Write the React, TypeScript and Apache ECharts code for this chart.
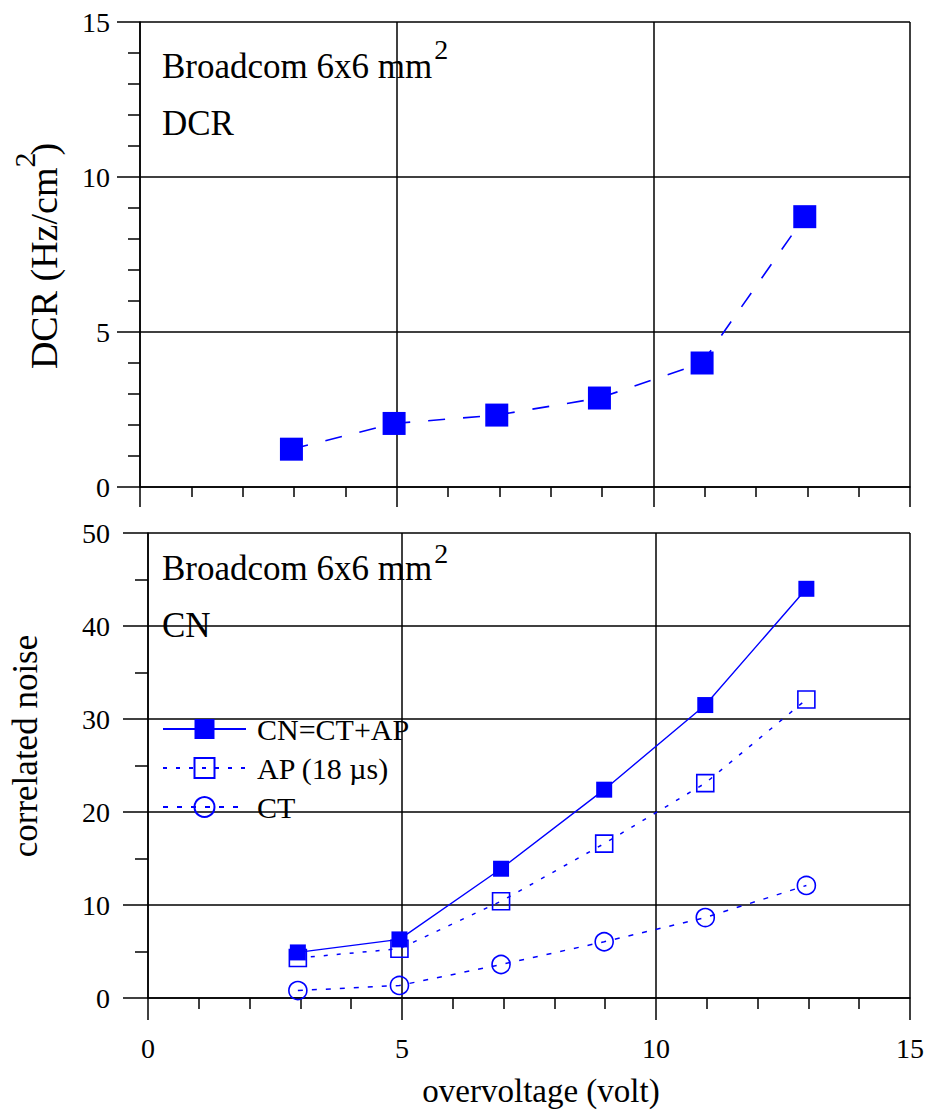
import React, { useEffect, useRef } from 'react';
import * as echarts from 'echarts';

const FONT = '"Liberation Serif", "Times New Roman", serif';
const BLUE = '#0000ff';
const BLACK = '#000000';

// ---- data ----
const dcrVoltage = [2.95, 4.95, 6.95, 8.95, 10.95, 12.95];
const dcrValues = [1.22, 2.05, 2.32, 2.87, 4.0, 8.72];

const cnVoltage = [2.95, 4.95, 6.95, 8.98, 10.97, 12.96];
const cnValues = [4.9, 6.3, 13.9, 22.4, 31.5, 44.0];
const apValues = [4.3, 5.3, 10.4, 16.6, 23.1, 32.1];
const ctValues = [0.8, 1.35, 3.6, 6.05, 8.65, 12.1];

const seriesNames = ['CN=CT+AP', 'AP (18 µs)', 'CT'];
const annotationTitle = 'Broadcom 6x6 mm';
const topTag = 'DCR';
const bottomTag = 'CN';
const xAxisName = 'overvoltage (volt)';
const topYName = 'DCR (Hz/cm';
const bottomYName = 'correlated noise';

function measure(text: string, size: number): number {
  const c = document.createElement('canvas').getContext('2d');
  if (!c) return text.length * size * 0.5;
  c.font = `${size}px "Liberation Serif"`;
  return c.measureText(text).width;
}

const zip = (xs: number[], ys: number[]) => xs.map((x, i) => [x, ys[i]]);

export default function App() {
  const ref = useRef<HTMLDivElement>(null);
  useEffect(() => {
    if (!ref.current) return;
    const chart = echarts.init(ref.current, undefined, { renderer: 'svg' });
    const ls = { color: BLACK, width: 1.5 };

    const xAxisBase = (grid: number, showLabel: boolean, tickLen: number, minorLen: number) => ({
      gridIndex: grid,
      type: 'value',
      min: 0,
      max: 15,
      interval: 5,
      axisLine: { show: true, onZero: false, lineStyle: ls },
      axisTick: { show: true, inside: false, length: tickLen, lineStyle: ls },
      minorTick: { show: true, splitNumber: 5, length: minorLen, lineStyle: ls },
      splitLine: { show: true, lineStyle: ls },
      axisLabel: {
        show: showLabel,
        color: BLACK,
        fontFamily: FONT,
        fontSize: 28,
        margin: 36,
      },
    });

    const yAxisBase = (grid: number, max: number, interval: number, minorSplit: number, margin: number, tickLen: number, minorLen: number) => ({
      gridIndex: grid,
      type: 'value',
      min: 0,
      max,
      interval,
      axisLine: { show: true, onZero: false, lineStyle: ls },
      axisTick: { show: true, inside: false, length: tickLen, lineStyle: ls },
      minorTick: { show: true, splitNumber: minorSplit, length: minorLen, lineStyle: ls },
      splitLine: { show: true, lineStyle: ls },
      axisLabel: { color: BLACK, fontFamily: FONT, fontSize: 28, margin },
    });

    // rotated DCR axis name pieces
    const w1 = measure(topYName, 38);
    const w2 = measure('2', 30);
    const w3 = measure(')', 38);
    const L = w1 + w2 + w3 - 3;
    const wc = measure(bottomYName, 35);
    const wTitle = measure(annotationTitle, 35);

    const txt = (x: number, y: number, text: string, size: number, align = 'left') => ({
      type: 'text',
      x,
      y,
      z: 10,
      style: {
        text,
        fill: BLACK,
        fontSize: size,
        fontFamily: FONT,
        align,
        verticalAlign: 'middle',
        textAlign: align,
        textVerticalAlign: 'middle',
      },
    });

    const option = {
      animation: false,
      backgroundColor: '#ffffff',
      grid: [
        { left: 140, top: 22, width: 770, height: 465, show: false },
        { left: 148, top: 533, width: 770, height: 465, show: false },
      ],
      xAxis: [xAxisBase(0, false, 20, 10), xAxisBase(1, true, 22, 11)],
      yAxis: [yAxisBase(0, 15, 5, 5, 30, 23, 12), yAxisBase(1, 50, 10, 2, 38, 25, 13)],
      legend: {
        data: seriesNames,
        orient: 'vertical',
        left: 162,
        top: 714,
        padding: 0,
        itemGap: 9,
        itemWidth: 83,
        itemHeight: 25,
        textStyle: { color: BLACK, fontFamily: FONT, fontSize: 30, padding: [0, 0, 0, 6] },
      },
      series: [
        {
          name: 'DCR',
          type: 'line',
          xAxisIndex: 0,
          yAxisIndex: 0,
          data: zip(dcrVoltage, dcrValues),
          symbol: 'rect',
          symbolSize: 23,
          itemStyle: { color: BLUE },
          lineStyle: { color: BLUE, width: 1.6, type: [17, 18] },
        },
        {
          name: seriesNames[0],
          type: 'line',
          xAxisIndex: 1,
          yAxisIndex: 1,
          data: zip(cnVoltage, cnValues),
          symbol: 'rect',
          symbolSize: 16,
          itemStyle: { color: BLUE },
          lineStyle: { color: BLUE, width: 1.4, type: 'solid' },
        },
        {
          name: seriesNames[1],
          type: 'line',
          xAxisIndex: 1,
          yAxisIndex: 1,
          data: zip(cnVoltage, apValues),
          symbol: 'rect',
          symbolSize: 17,
          itemStyle: { color: 'rgba(0,0,0,0)', borderColor: BLUE, borderWidth: 1.6 },
          lineStyle: { color: BLUE, width: 1.5, type: [4, 9] },
        },
        {
          name: seriesNames[2],
          type: 'line',
          xAxisIndex: 1,
          yAxisIndex: 1,
          data: zip(cnVoltage, ctValues),
          symbol: 'circle',
          symbolSize: 18,
          itemStyle: { color: 'rgba(0,0,0,0)', borderColor: BLUE, borderWidth: 1.6 },
          lineStyle: { color: BLUE, width: 1.5, type: [5, 9] },
        },
      ],
      graphic: [
        txt(162, 66, annotationTitle, 35),
        txt(162 + wTitle + 2, 49, '2', 28),
        txt(162, 123, topTag, 35),
        txt(162, 568, annotationTitle, 35),
        txt(162 + wTitle + 2, 553, '2', 28),
        txt(162, 625, bottomTag, 35),
        txt(541, 1091, xAxisName, 33, 'center'),
        {
          type: 'group',
          x: 44,
          y: 256,
          rotation: Math.PI / 2,
          children: [
            txt(-L / 2, 0, topYName, 38),
            txt(-L / 2 + w1, -20, '2', 30),
            txt(-L / 2 + w1 + w2 - 3, 0, ')', 38),
          ],
        },
        {
          type: 'group',
          x: 25,
          y: 746,
          rotation: Math.PI / 2,
          children: [txt(-wc / 2, 0, bottomYName, 35)],
        },
      ],
    };
    chart.setOption(option as any);
    return () => chart.dispose();
  }, []);
  return (
    <div
      ref={ref}
      style={{ position: 'absolute', left: 0, top: 0, width: 927, height: 1112, background: '#fff' }}
    />
  );
}
